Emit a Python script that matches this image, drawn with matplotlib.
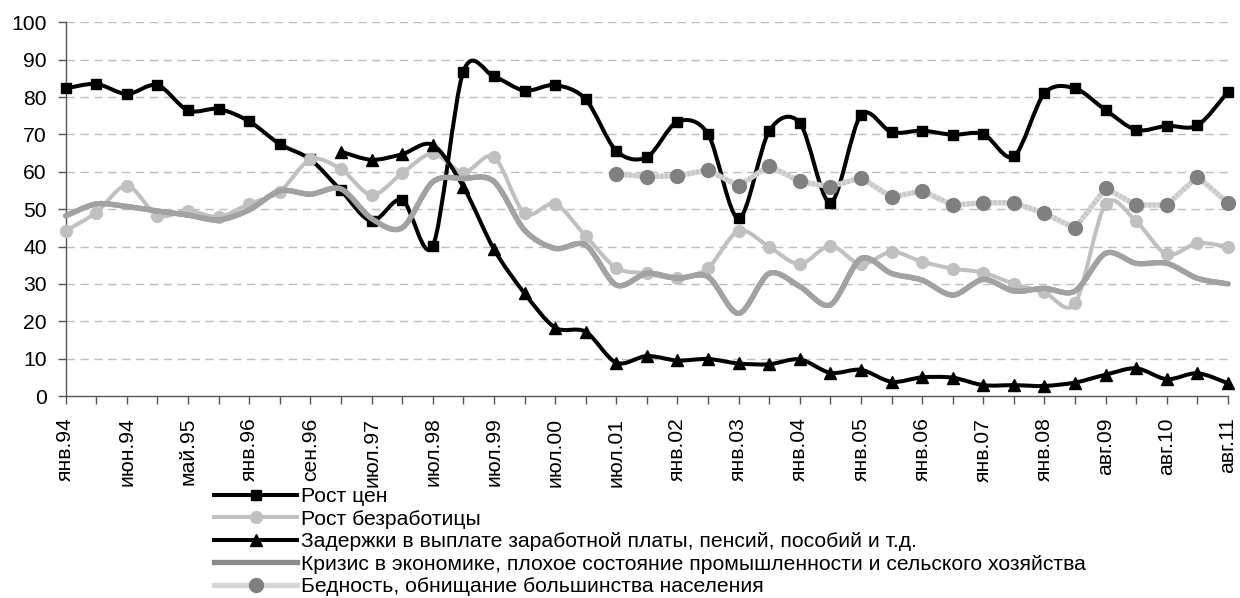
import matplotlib
matplotlib.use('Agg')
import matplotlib.pyplot as plt
from matplotlib.path import Path
from matplotlib.patches import PathPatch
from matplotlib.lines import Line2D
import numpy as np

plt.rcParams['font.family'] = ['Liberation Sans', 'DejaVu Sans']

# ---- data -------------------------------------------------------------
tick_labels = ['янв.94', 'июн.94', 'май.95', 'янв.96', 'сен.96', 'июл.97', 'июл.98',
               'июл.99', 'июл.00', 'июл.01', 'янв.02', 'янв.03', 'янв.04', 'янв.05',
               'янв.06', 'янв.07', 'янв.08', 'авг.09', 'авг.10', 'авг.11']
n_points = 39

series_names = ['Рост цен',
                'Рост безработицы',
                'Задержки в выплате заработной платы, пенсий, пособий и т.д.',
                'Кризис в экономике, плохое состояние промышленности и сельского хозяйства',
                'Бедность, обнищание большинства населения']

price = [82.3, 83.5, 80.8, 83.2, 76.4, 76.8, 73.5, 67.4, 63.3, 55.0,
         46.8, 52.5, 40.1, 86.8, 85.5, 81.7, 83.2, 79.4, 65.6, 63.9,
         73.4, 70.1, 47.5, 70.9, 73.1, 51.7, 75.2, 70.6, 71.0, 69.9,
         70.1, 64.1, 81.0, 82.3, 76.5, 71.2, 72.3, 72.4, 81.4]

unemployment = [44.2, 49.1, 56.3, 48.3, 49.6, 47.9, 51.4, 54.7, 63.3, 60.7,
                53.8, 59.6, 64.9, 59.8, 64.0, 48.9, 51.4, 42.8, 34.3, 32.8,
                31.5, 34.3, 44.2, 39.9, 35.3, 40.2, 35.2, 38.6, 35.9, 34.1,
                33.0, 30.0, 27.7, 24.8, 51.4, 46.7, 37.9, 40.9, 39.9]

delays = [None] * 9 + [65.4, 63.2, 64.7, 67.2, 56.0, 39.3, 27.5, 18.3, 17.2, 8.9,
                       10.7, 9.5, 9.9, 8.7, 8.5, 9.8, 6.2, 7.0, 3.8, 5.0,
                       4.9, 2.9, 2.9, 2.7, 3.6, 5.7, 7.4, 4.5, 6.1, 3.4]

crisis = [48.2, 51.4, 50.7, 49.5, 48.4, 47.1, 49.8, 54.9, 54.0, 55.4,
          47.5, 45.0, 57.3, 58.2, 57.4, 44.4, 39.5, 40.4, 29.7, 32.8,
          31.5, 31.9, 22.1, 32.8, 29.3, 24.4, 36.8, 32.8, 31.0, 27.0,
          31.2, 28.1, 28.8, 28.1, 38.2, 35.5, 35.5, 31.5, 30.0]

poverty = [None] * 18 + [59.4, 58.7, 58.9, 60.5, 56.2, 61.6, 57.4, 56.0, 58.4, 53.2,
                         54.9, 51.1, 51.7, 51.7, 48.9, 44.9, 55.6, 51.1, 51.1, 58.7,
                         51.7]

# ---- helpers ----------------------------------------------------------
def runs(values):
    xs, ys = [], []
    out = []
    for i, v in enumerate(values):
        if v is None:
            if xs:
                out.append((xs, ys)); xs, ys = [], []
        else:
            xs.append(i); ys.append(v)
    if xs:
        out.append((xs, ys))
    return out


def smooth_path(xs, ys, k=1 / 6.5):
    verts = [(xs[0], ys[0])]
    codes = [Path.MOVETO]
    n = len(xs)
    for i in range(n - 1):
        i0, i1, i2, i3 = max(i - 1, 0), i, i + 1, min(i + 2, n - 1)
        c1 = (xs[i1] + (xs[i2] - xs[i0]) * k, ys[i1] + (ys[i2] - ys[i0]) * k)
        c2 = (xs[i2] - (xs[i3] - xs[i1]) * k, ys[i2] - (ys[i3] - ys[i1]) * k)
        verts += [c1, c2, (xs[i2], ys[i2])]
        codes += [Path.CURVE4] * 3
    return Path(verts, codes)


def draw_smooth(ax, values, color, lw, z, ls='solid'):
    for xs, ys in runs(values):
        p = PathPatch(smooth_path(xs, ys), fill=False, edgecolor=color, lw=lw,
                      zorder=z, clip_on=False, capstyle='round', joinstyle='round',
                      linestyle=ls)
        ax.add_patch(p)


# ---- figure -----------------------------------------------------------
fig = plt.figure(figsize=(12.4, 5.98), dpi=100)
ax = fig.add_axes([65.7 / 1240, 1 - 396 / 598, (1228 - 65.7) / 1240, (396 - 22.3) / 598])

x = np.arange(n_points)
ax.set_xlim(0, n_points - 1)
ax.set_ylim(0, 100)

for v in range(10, 101, 10):
    ax.axhline(v, color='#bdbdbd', lw=1.0, linestyle=(0, (6, 4)), zorder=0)

FS = 15.2
BLACK = '#000000'
LGRAY = '#c0c0c0'
MGRAY = '#8a8a8a'
PLINE = '#d6d6d6'
PDOT = '#808080'

# Рост цен
draw_smooth(ax, price, BLACK, 2.9, 3)
ax.plot(x, price, linestyle='none', marker='s', ms=7.8, color=BLACK, zorder=3.5, clip_on=False)

# Рост безработицы
draw_smooth(ax, unemployment, LGRAY, 2.9, 4)
ax.plot(x, unemployment, linestyle='none', marker='o', ms=8.5, color=LGRAY, zorder=4.5, clip_on=False)

# Задержки
dx = [i for i, v in enumerate(delays) if v is not None]
dy = [v for v in delays if v is not None]
draw_smooth(ax, delays, BLACK, 2.9, 5)
ax.plot(dx, dy, linestyle='none', marker='^', ms=8.5, color=BLACK, zorder=5.5, clip_on=False)

# Кризис (textured mid-gray, no markers)
draw_smooth(ax, crisis, MGRAY, 3.8, 6)
draw_smooth(ax, crisis, '#a2a2a2', 3.8, 6.1, ls=(0, (0.35, 0.35)))

# Бедность (textured light line, dark dots)
px = [i for i, v in enumerate(poverty) if v is not None]
py = [v for v in poverty if v is not None]
ax.plot(px, py, color=PLINE, lw=3.8, zorder=7, solid_capstyle='butt', clip_on=False)
ax.plot(px, py, color='#c6c6c6', lw=3.8, zorder=7.1, linestyle=(0, (0.35, 0.5)), clip_on=False)
ax.plot(px, py, linestyle='none', marker='o', ms=10, color=PDOT, zorder=7.5, clip_on=False)

# axes styling
ax.set_yticks(range(0, 101, 10))
ax.set_xticks(x, minor=False)
ax.set_xticklabels([tick_labels[i // 2] if i % 2 == 0 else '' for i in x], rotation=90)
for s in ['top', 'right']:
    ax.spines[s].set_visible(False)
for s in ['left', 'bottom']:
    ax.spines[s].set_color('#555555')
    ax.spines[s].set_linewidth(1.0)
ax.tick_params(axis='both', direction='out', length=5.5, width=1.0, color='#555555',
               labelsize=FS, labelcolor='black')
ax.tick_params(axis='y', pad=8)
ax.tick_params(axis='x', pad=10)

# legend
handles = [
    Line2D([], [], color=BLACK, lw=2.9, marker='s', ms=7.8),
    Line2D([], [], color=LGRAY, lw=2.9, marker='o', ms=8.5),
    Line2D([], [], color=BLACK, lw=2.9, marker='^', ms=8.5),
    Line2D([], [], color=MGRAY, lw=3.8),
    Line2D([], [], color=PLINE, lw=3.8, marker='o', ms=10, markerfacecolor=PDOT,
           markeredgecolor=PDOT),
]
fig.legend(handles, series_names, loc='upper left',
           bbox_to_anchor=(214 / 1240, 1 - 487 / 598), frameon=False,
           fontsize=FS, handlelength=3.95, handletextpad=0.18, labelspacing=0.17,
           borderpad=0, borderaxespad=0)

fig.savefig('out.png', dpi=100)
